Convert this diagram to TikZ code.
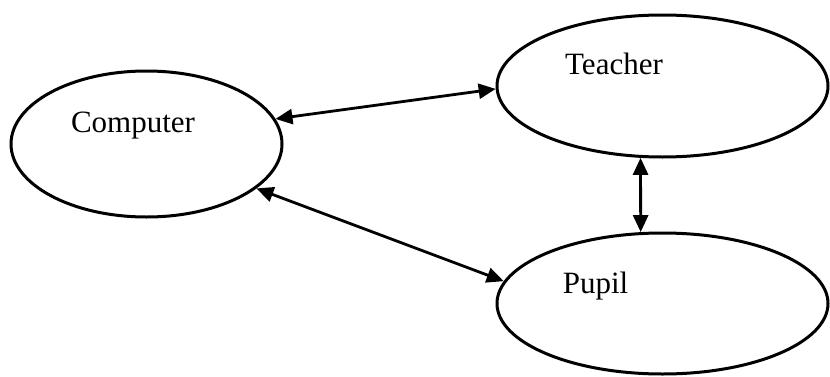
\documentclass[tikz,border=0pt]{standalone}
\usepackage{fontspec}
\setmainfont{Liberation Serif}
\usetikzlibrary{shapes.geometric,arrows.meta}

\begin{document}
\begin{tikzpicture}[x=1pt,y=1pt,
    bubble/.style={ellipse, draw, line width=3pt, inner sep=0pt},
    caption/.style={anchor=base, inner sep=0pt, font=\fontsize{31}{36}\selectfont},
    biarrow/.style={line width=2.8pt, {Triangle[length=17pt,width=15pt]}-{Triangle[length=17pt,width=15pt]}}]
  \useasboundingbox (0,0) rectangle (830,376);

  % the three actors
  \node[bubble, minimum width=271pt, minimum height=146pt] (comp)  at (146.5,232) {};
  \node[bubble, minimum width=331pt, minimum height=142pt] (teach) at (662.5,290) {};
  \node[bubble, minimum width=331pt, minimum height=141pt] (pupil) at (662.5,72.5) {};

  % their names
  \node[caption] (compname)  at (133,244)   {Computer};
  \node[caption] (teachname) at (614,302)   {Teacher};
  \node[caption] (pupilname) at (595.5,83)  {Pupil};

  % two-way links
  \draw[biarrow] (comp.11.6)   -- (teach.181.4);
  \draw[biarrow] (comp.-22.4)  -- (pupil.172.6);
  \draw[biarrow] (teach.253.2) -- (pupil.107);
\end{tikzpicture}
\end{document}
